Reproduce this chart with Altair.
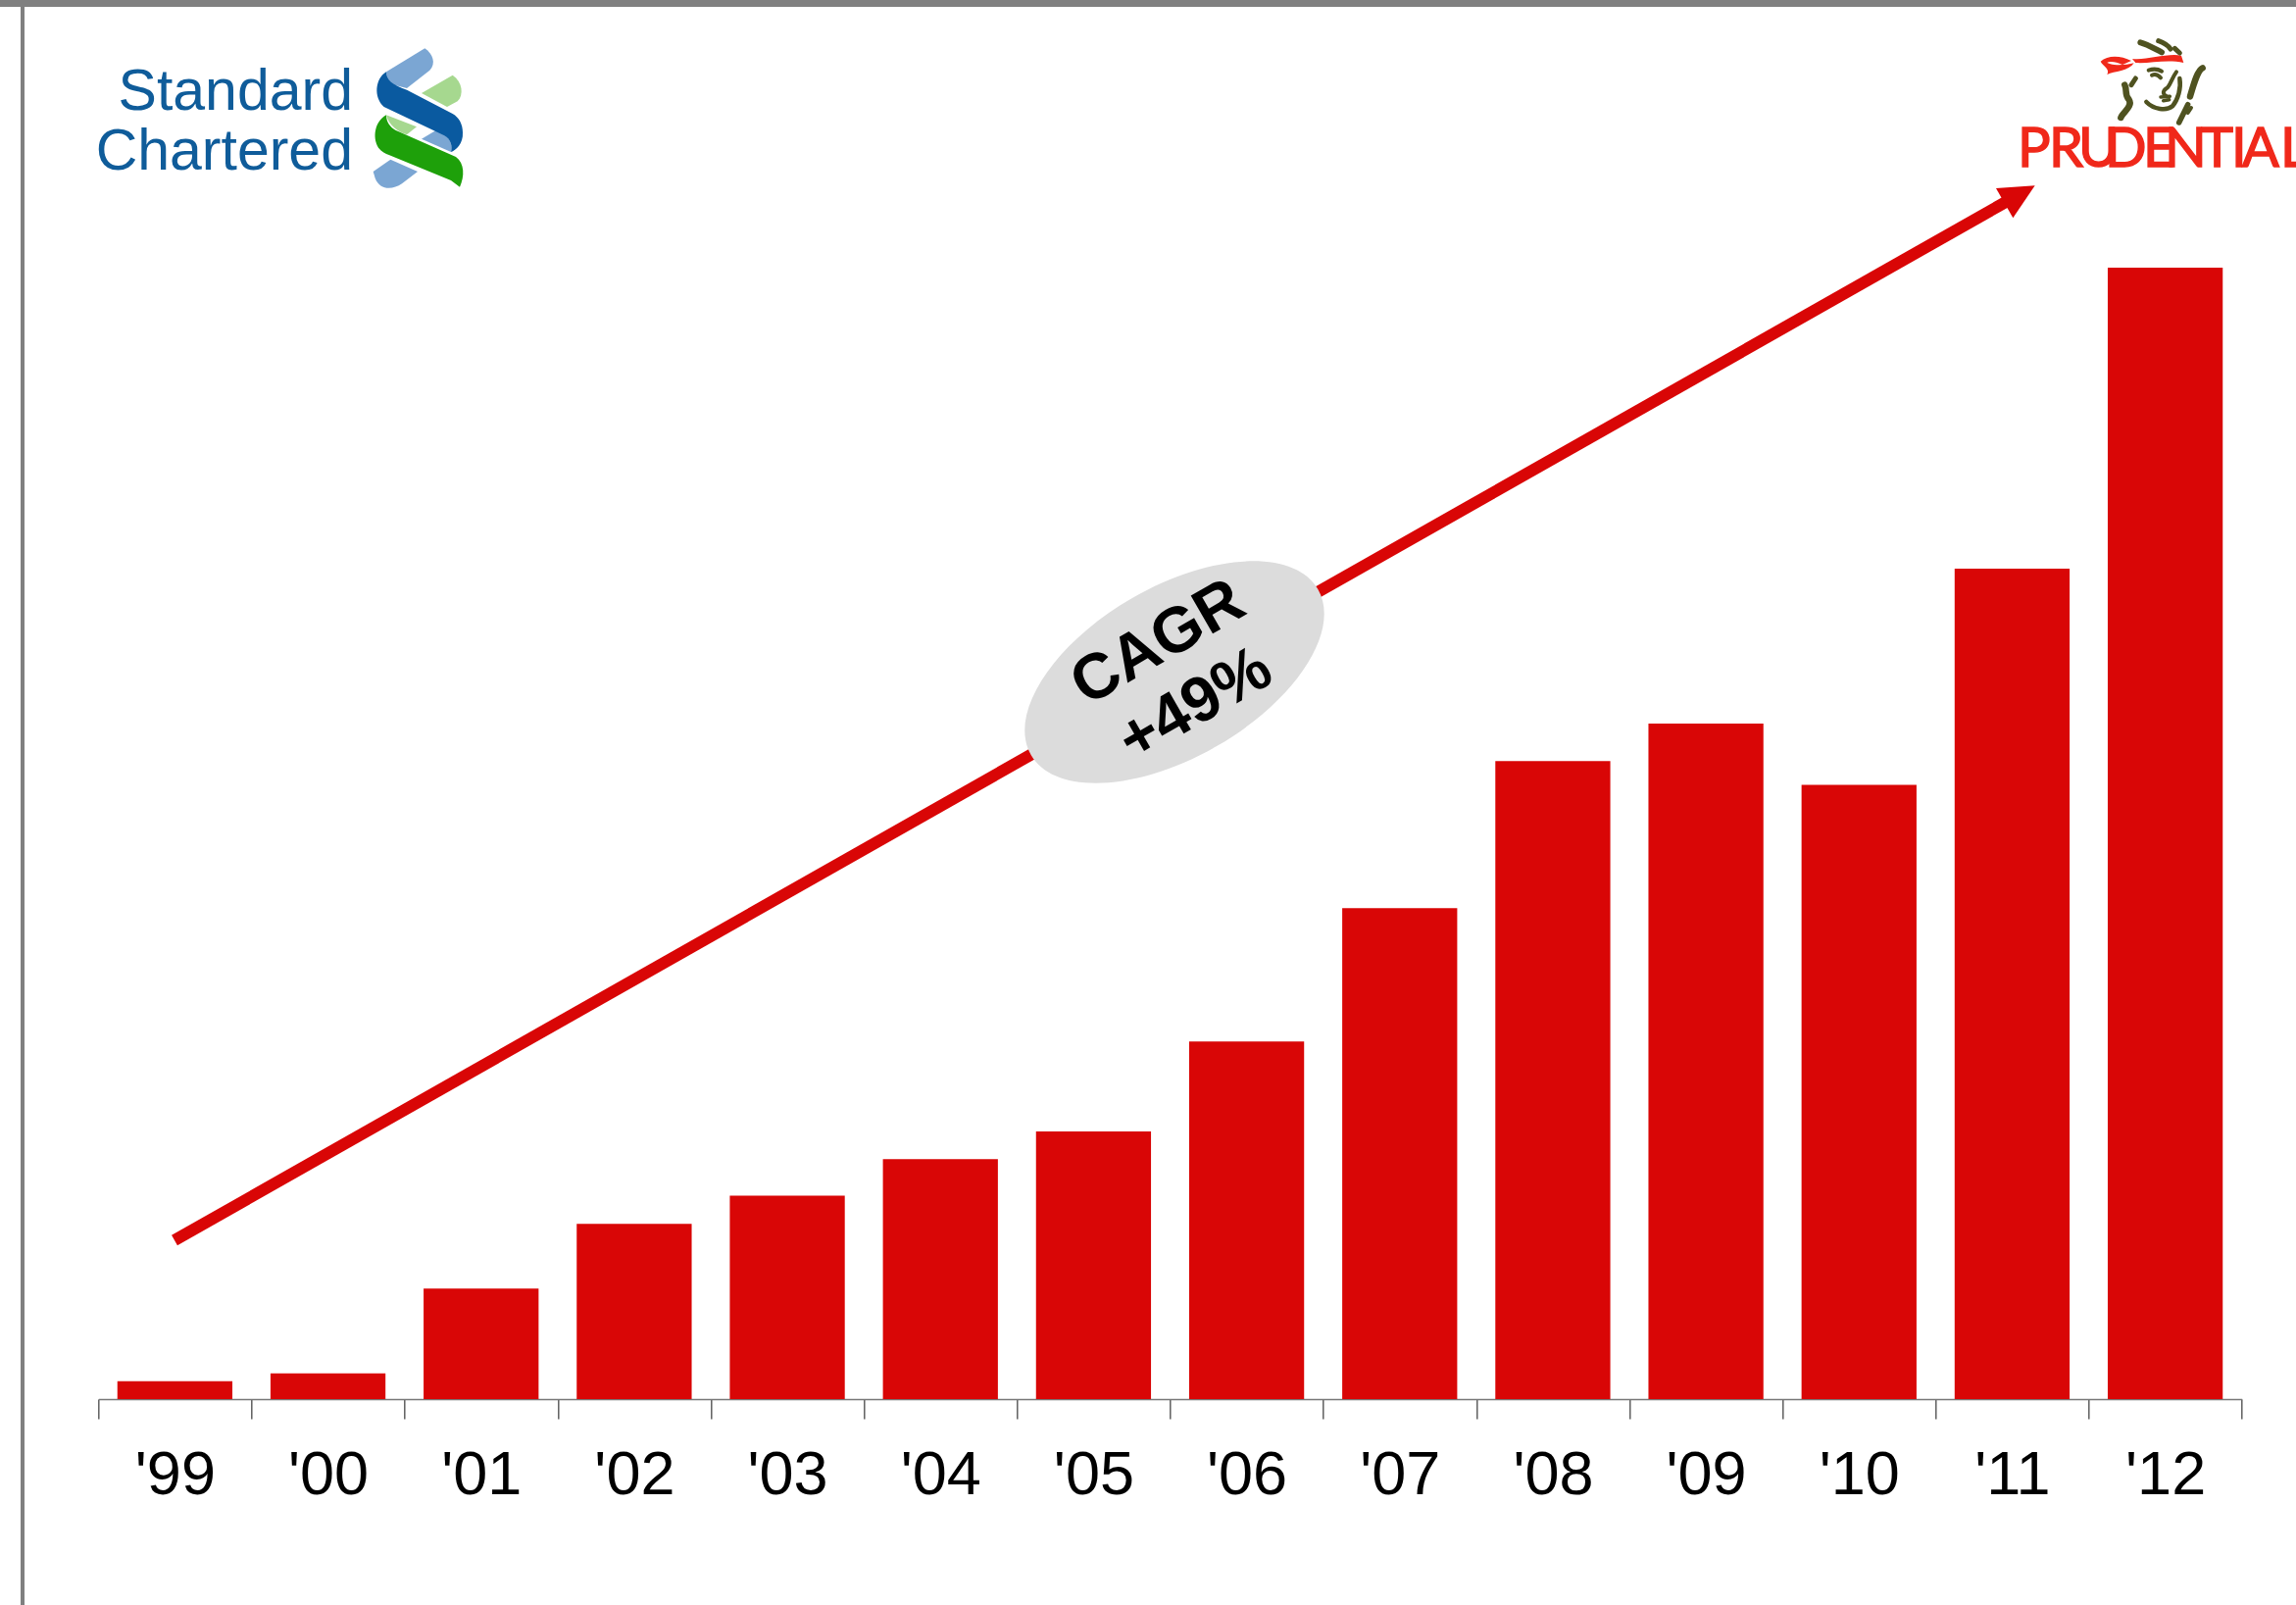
import altair as alt
import pandas as pd

# Bar series, indexed so that 2012 = 100
years = ["'99", "'00", "'01", "'02", "'03", "'04", "'05", "'06", "'07", "'08", "'09", "'10", "'11", "'12"]
index_values = [1.59, 2.28, 9.76, 15.5, 17.98, 21.2, 23.66, 31.6, 43.4, 56.4, 59.7, 54.3, 73.4, 100.0]

RED = "#d90606"
GREY = "#808080"
NAVY = "#0f5c9a"
LEFT = 100.3
PLOT_W = 2186.4
PLOT_H = 1427
Y_MAX = 123.66


def page_x(px):
    """Horizontal position inside the plot for a given page pixel."""
    return alt.value(px - LEFT)


def one():
    return pd.DataFrame({"n": [1]})


def shape_layer(path, colour, ox, oy, stroke_width=0.0):
    """A vector shape drawn at a third of its path units."""
    opts = dict(shape=path, size=4 / 9, opacity=1)
    if stroke_width:
        opts.update(filled=False, stroke=colour, strokeWidth=stroke_width, strokeCap="round", strokeJoin="round")
    else:
        opts.update(filled=True, fill=colour, strokeWidth=0)
    return alt.Chart(one()).mark_point(**opts).encode(x=page_x(ox), y=alt.value(oy))


def text_layer(label, px, py, size, colour, font="Liberation Sans", weight="normal", align="left", angle=0, **extra):
    return alt.Chart(pd.DataFrame({"t": [label]})).mark_text(
        font=font, fontSize=size, fontWeight=weight, color=colour, align=align, baseline="alphabetic", angle=angle, **extra
    ).encode(x=page_x(px), y=alt.value(py), text="t:N")


# Each band spans one tick interval; the bar fills three quarters of it
bars = alt.Chart(pd.DataFrame({"year": years, "value": index_values})).mark_bar(
    color=RED, width=alt.RelativeBandSize(band=0.751)
).encode(
    x=alt.X(
        "year:N",
        sort=years,
        title=None,
        scale=alt.Scale(paddingInner=0, paddingOuter=0),
        axis=alt.Axis(
            labelAngle=0,
            labelFont="Liberation Sans",
            labelFontSize=63,
            labelColor="#000000",
            labelPadding=26,
            tickSize=20,
            tickColor="#5f5f5f",
            tickWidth=1.5,
            tickBand="extent",
            domainColor="#777777",
            domainWidth=1.5,
            grid=False,
        ),
    ),
    y=alt.Y("value:Q", axis=None, scale=alt.Scale(domain=[0, Y_MAX], nice=False, zero=True)),
)

# Page frame
frame_top = alt.Chart(one()).mark_rect(color=GREY).encode(
    x=page_x(0), x2=page_x(2342), y=alt.value(0), y2=alt.value(7)
)
frame_left = alt.Chart(one()).mark_rect(color=GREY).encode(
    x=page_x(21), x2=page_x(25), y=alt.value(0), y2=alt.value(1637)
)

# Growth arrow with its rotated badge
arrow_line = alt.Chart(one()).mark_rule(color=RED, strokeWidth=12).encode(
    x=page_x(178), x2=page_x(2046), y=alt.value(1265), y2=alt.value(206)
)
arrow_head = shape_layer("M287,568 L168,576 L220,667 Z", RED, 1980, 0)
badge = alt.Chart(one()).mark_point(
    shape="M-169,0 A169,87 0 1,1 169,0 A169,87 0 1,1 -169,0 Z",
    size=4, angle=330, filled=True, fill="#dcdcdc", strokeWidth=0, opacity=1,
).encode(x=page_x(1198), y=alt.value(685.5))
badge_top = text_layer("CAGR", 1191, 673, 65, "#000000", weight="bold", align="center", angle=330)
badge_bottom = text_layer("+49%", 1229, 736, 65, "#000000", weight="bold", align="center", angle=330)

# Standard Chartered wordmark and helix
sc_lines = [("Standard", 112), ("Chartered", 173)]
sc_text = [text_layer(t, 360, y, 59, NAVY, align="right") for t, y in sc_lines]
helix = [
    ("M72,100 L190,28 C215,45 225,75 205,95 L135,150 L75,135 Z", "#7ba6d3"),
    ("M180,165 L275,110 C305,130 310,170 290,190 L258,207 Z", "#a6d88f"),
    ("M72,232 L165,268 L135,292 C110,285 80,265 72,232 Z", "#a6d88f"),
    ("M180,305 L225,278 L250,290 C270,305 275,330 270,345 Z", "#7ba6d3"),
    ("M72,100 C38,120 32,178 65,207 L250,295 C270,305 275,330 270,345 C285,340 308,320 306,285 C306,260 295,240 275,228 L135,155 C90,140 72,125 72,100 Z", "#0a5aa0"),
    ("M85,368 L168,405 L120,442 C90,462 52,462 38,425 L32,405 Z", "#7ba6d3"),
    ("M72,232 C38,250 28,300 48,332 C58,344 70,350 80,354 L270,432 L297,452 C312,420 312,380 285,360 L100,278 C85,270 72,255 72,232 Z", "#1ea00a"),
]
helix_layers = [shape_layer(p, c, 370, 40) for p, c in helix]

# Prudential wordmark, set letter by letter because its capitals overlap
pru_letters = list("PRUDENTIAL")
pru_starts = [2058, 2090, 2120, 2147, 2186, 2208, 2245, 2276, 2287, 2326]
pru_text = [
    text_layer(c, x, 170, 56, "#f0281a", font="Lato", stroke="#f0281a", strokeWidth=1.4)
    for c, x in zip(pru_letters, pru_starts)
]

# Prudential head drawing
head_red = [
    "M375,90 C420,95 480,72 525,80 L532,102 C480,90 430,105 385,102 Z",
    "M278,98 C300,78 340,80 372,96 L345,108 C325,98 305,97 298,102 L308,106 C330,112 360,108 380,103 C365,128 320,128 298,138 C308,120 285,112 278,98 Z",
]
head_olive = [
    ("M400,40 C420,45 445,60 465,70", 6),
    ("M455,35 C470,40 485,50 492,60", 5),
    ("M505,58 L520,72", 5),
    ("M425,125 C440,120 455,122 465,128", 4),
    ("M435,140 C445,135 455,140 462,148", 4),
    ("M510,130 C495,150 490,175 480,180 C465,190 470,200 480,205", 4),
    ("M462,207 L490,205", 3.5),
    ("M470,218 L488,215", 3.5),
    ("M418,222 C440,245 480,250 498,235 C515,215 525,180 520,150", 4.5),
    ("M590,118 C575,125 565,160 552,205", 6.5),
    ("M545,230 L518,285", 5.5),
    ("M555,240 L545,255", 4),
    ("M385,150 L372,170", 5),
    ("M352,170 C360,185 350,200 365,215 C378,235 345,255 340,270", 6.5),
]
head_layers = [shape_layer(p, "#f0281a", 2050, 30) for p in head_red]
head_layers += [shape_layer(p, "#4f5220", 2050, 30, stroke_width=w) for p, w in head_olive]

chart = alt.layer(
    frame_top, frame_left, arrow_line, arrow_head, badge, badge_top, badge_bottom, bars,
    *sc_text, *helix_layers, *pru_text, *head_layers,
).properties(
    width=PLOT_W,
    height=PLOT_H,
    padding={"left": LEFT, "top": 0, "right": 2342 - LEFT - PLOT_W, "bottom": 1637 - PLOT_H},
    autosize=alt.AutoSizeParams(type="none"),
    background="#ffffff",
).configure_view(strokeWidth=0)

chart.save("out.html", embed_options={"renderer": "svg", "actions": False})
